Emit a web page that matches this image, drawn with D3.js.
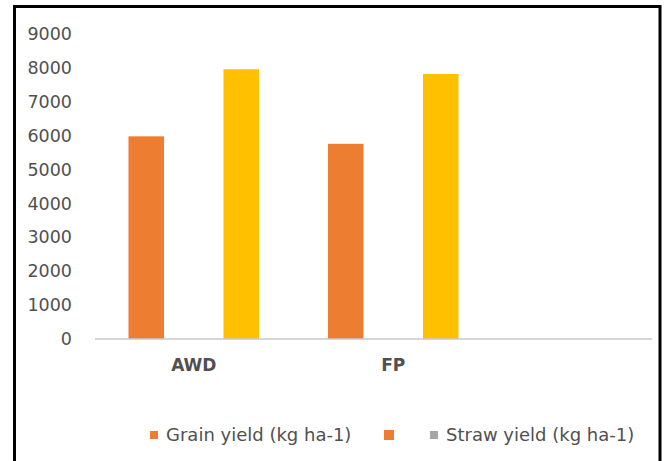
<!DOCTYPE html>
<html>
<head>
<meta charset="utf-8">
<script src="https://cdn.jsdelivr.net/npm/d3@7"></script>
<style>
  html, body { margin: 0; padding: 0; background: #fff; }
  svg text { font-family: "DejaVu Sans", sans-serif; fill: #505050; }
</style>
</head>
<body>
<svg id="chart" width="665" height="461"></svg>
<script>
// Treatments on the x axis (third slot is left empty)
const categories = ["AWD", "FP", ""];
// Yields in kg ha-1
const grainYield = [5980, 5760, null];
const strawYield = [7960, 7820, null];
const yTicks = [0, 1000, 2000, 3000, 4000, 5000, 6000, 7000, 8000, 9000];
// Legend entries as printed
const legendItems = [
  { label: "Grain yield (kg ha-1)", color: "#ED7D31", size: 8 },
  { label: "", color: "#ED7D31", size: 10 },
  { label: "Straw yield (kg ha-1)", color: "#A5A5A5", size: 8 }
];

const svg = d3.select("#chart");

const plot = { left: 95, right: 652, top: 34, bottom: 339 };

const y = d3.scaleLinear().domain([0, 9000]).range([plot.bottom, plot.top]);

const x0 = d3.scaleBand().domain(categories).range([94, 692.5]).paddingInner(0).paddingOuter(0);
const series = ["grain", "straw"];
const x1 = d3.scaleBand().domain(series).range([0, x0.bandwidth()]).paddingInner(0.626).paddingOuter(0.363);
const colors = { grain: "#ED7D31", straw: "#FFC000" };

// Bars
const rows = categories.map((c, i) => ({ cat: c, grain: grainYield[i], straw: strawYield[i] }));
const groups = svg.append("g").selectAll("g").data(rows).join("g")
  .attr("transform", d => `translate(${x0(d.cat)},0)`);
groups.selectAll("rect")
  .data(d => series.filter(s => d[s] != null).map(s => ({ key: s, value: d[s] })))
  .join("rect")
  .attr("x", d => x1(d.key))
  .attr("width", x1.bandwidth())
  .attr("y", d => y(d.value))
  .attr("height", d => y(0) - y(d.value))
  .attr("fill", d => colors[d.key]);

// Baseline
svg.append("line")
  .attr("x1", plot.left).attr("x2", plot.right)
  .attr("y1", y(0)).attr("y2", y(0))
  .attr("stroke", "#c8c8c8").attr("stroke-width", 1.5);

// Y axis labels
const yAxis = d3.axisLeft(y).tickValues(yTicks).tickSize(0).tickPadding(0).tickFormat(d3.format("d"));
const yg = svg.append("g").attr("transform", "translate(72,0)").call(yAxis);
yg.select(".domain").remove();
yg.selectAll("text").attr("font-size", 17.5).style("font-family", "DejaVu Sans, sans-serif").attr("fill", "#505050");

// X axis labels
const xAxis = d3.axisBottom(x0).tickSize(0).tickPadding(0);
const xg = svg.append("g").attr("transform", `translate(0,${y(0) + 20})`).call(xAxis);
xg.select(".domain").remove();
xg.selectAll("text").attr("font-size", 17).attr("font-weight", "bold")
  .style("font-family", "DejaVu Sans, sans-serif").attr("fill", "#505050");

// Legend
const legendX = [150, 384, 430];
const leg = svg.append("g");
legendItems.forEach((it, i) => {
  const cy = 435;
  leg.append("rect")
    .attr("x", legendX[i]).attr("y", cy - it.size / 2)
    .attr("width", it.size).attr("height", it.size)
    .attr("fill", it.color);
  if (it.label) {
    leg.append("text")
      .attr("x", legendX[i] + it.size + 8).attr("y", cy)
      .attr("dy", "0.35em")
      .attr("font-size", 18)
      .text(it.label);
  }
});

// Outer frame
svg.append("path")
  .attr("d", "M14.5,470 V6.5 H660 V470")
  .attr("fill", "none").attr("stroke", "#000").attr("stroke-width", 3);
</script>
</body>
</html>
